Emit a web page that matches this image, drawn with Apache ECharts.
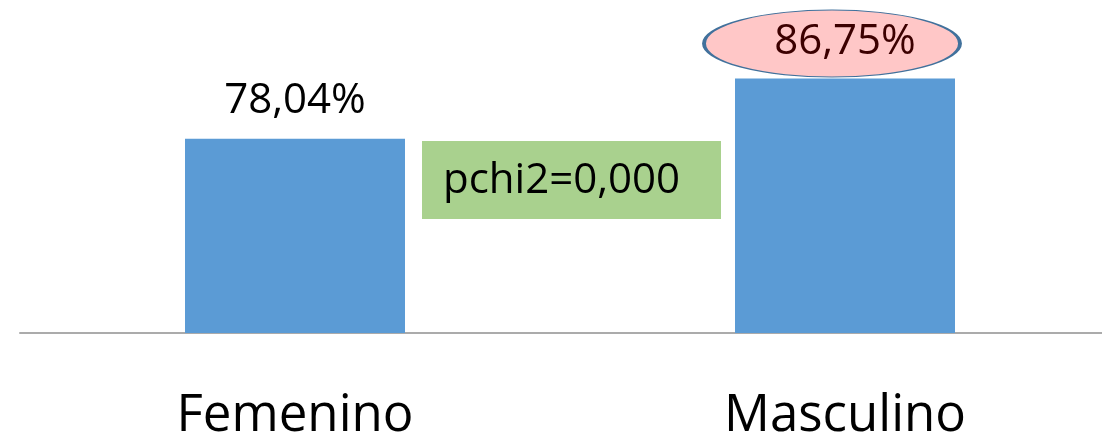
<!DOCTYPE html>
<html>
<head>
<meta charset="utf-8">
<script src="https://cdn.jsdelivr.net/npm/echarts@6/dist/echarts.min.js"></script>
<style>
  html, body { margin: 0; padding: 0; background: #fff; }
  #chart { width: 1102px; height: 439px; }
</style>
</head>
<body>
<div id="chart"></div>
<script>
// categorias y porcentajes
const categories = ['Femenino', 'Masculino'];
const values = [78.04, 86.75];
const highlighted = 'Masculino';
const testLabel = 'pchi2=0,000';

const fmt = (v) => v.toFixed(2).replace('.', ',') + '%';
const font = '"Open Sans", "Noto Sans", sans-serif';

const chart = echarts.init(document.getElementById('chart'));

const option = {
  animation: false,
  grid: { left: 20, width: 1100, top: 56, bottom: 106, outerBoundsMode: 'none', containLabel: false },
  xAxis: {
    type: 'category',
    data: categories,
    axisLine: { lineStyle: { color: '#ababab', width: 2 } },
    axisTick: { show: false },
    axisLabel: { fontSize: 51, color: '#000', fontFamily: font, margin: 58 },
  },
  yAxis: {
    type: 'value',
    min: 50,
    max: 90,
    show: false,
    splitLine: { show: false },
  },
  series: [
    {
      type: 'bar',
      barWidth: 220,
      itemStyle: { color: '#5b9bd5' },
      label: {
        show: true,
        position: 'top',
        distance: 17,
        fontSize: 42,
        fontFamily: font,
        color: '#000',
        formatter: (p) => fmt(p.value),
      },
      data: values.map((v, i) => ({
        value: v,
        label: categories[i] === highlighted ? { show: false } : undefined,
      })),
      markPoint: {
        symbol: 'circle',
        symbolSize: [256, 67],
        symbolOffset: [-13, -35],
        itemStyle: { color: '#ffc7c7', borderColor: '#41719c', borderWidth: 2 },
        label: {
          show: true,
          position: 'inside',
          offset: [13, -1],
          fontSize: 42,
          fontFamily: font,
          color: '#3c0000',
          formatter: () => fmt(values[categories.indexOf(highlighted)]),
        },
        data: [
          { coord: [highlighted, values[categories.indexOf(highlighted)]] },
        ],
      },
    },
  ],
  graphic: [
    {
      type: 'group',
      left: 422,
      top: 141,
      children: [
        {
          type: 'rect',
          shape: { x: 0, y: 0, width: 299, height: 78 },
          style: { fill: '#a9d18e' },
        },
        {
          type: 'text',
          x: 21,
          y: 40,
          style: {
            text: testLabel,
            font: '42px ' + font,
            fill: '#000',
            verticalAlign: 'middle',
          },
        },
      ],
    },
  ],
};

chart.setOption(option);
</script>
</body>
</html>
